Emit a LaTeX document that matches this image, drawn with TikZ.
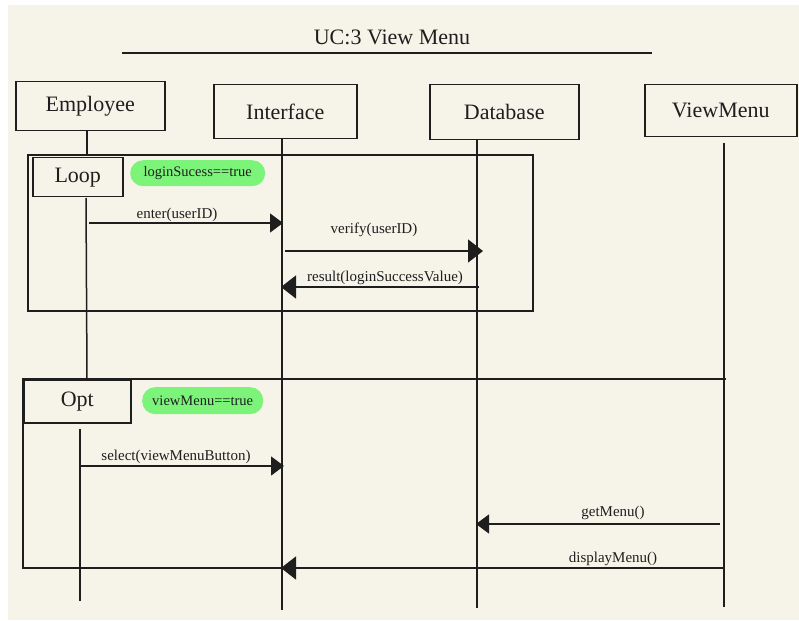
\documentclass[tikz,border=0pt]{standalone}
\usepackage{fontspec}
\setmainfont{Liberation Serif}
\usetikzlibrary{arrows.meta}
\definecolor{paper}{HTML}{F6F4E9}
\definecolor{ink}{HTML}{1E1E1E}
\definecolor{pill}{HTML}{7CF47A}
\begin{document}
\begin{tikzpicture}[x=1pt,y=-1pt,
  line/.style={draw=ink, line width=1.5pt},
  actor/.style={line, anchor=north west, inner sep=0pt, text=ink,
    font=\fontsize{22}{24}\selectfont},
  framelabel/.style={line, anchor=north west, inner sep=0pt, text=ink,
    font=\fontsize{22}{24}\selectfont},
  guard/.style={fill=pill, rounded corners=13pt, inner sep=0pt, anchor=north west,
    text=ink, font=\fontsize{14.5}{16}\selectfont},
  msglabel/.style={text=ink, inner sep=0pt, font=\fontsize{15}{17}\selectfont},
  msg/.style={line, -{Triangle[length=15pt,width=23pt]}},
  msgsmall/.style={line, -{Triangle[length=13pt,width=19pt]}}]

% page and paper
\useasboundingbox (0,0) rectangle (799,620);
\fill[white] (0,0) rectangle (799,620);
\fill[paper] (8,5) rectangle (799,620);

% title
\node[text=ink, font=\fontsize{22}{24}\selectfont] (title) at (392,37) {UC:3 View Menu};
\coordinate (ulL) at (122,53);
\coordinate (ulR) at (652,53);
\draw[line] (ulL) -- (ulR);

% participants
\node[actor, minimum width=149pt, minimum height=49pt] (emp) at (15,81) {Employee};
\node[actor, minimum width=143pt, minimum height=54pt] (ifc) at (213,84) {Interface};
\node[actor, minimum width=149pt, minimum height=55pt] (db) at (429,84) {Database};
\node[actor, minimum width=152pt, minimum height=52pt] (vm) at (644,84) {ViewMenu};

% loop fragment
\coordinate (loopNW) at (28,155);
\coordinate (loopSE) at (533,311);
\draw[line] (loopNW) rectangle (loopSE);
\node[framelabel, minimum width=90pt, minimum height=39pt] (looplbl) at (32,157) {Loop};
\node[guard, minimum width=135pt, minimum height=26pt] (g1) at (130,160) {loginSucess==true};

% opt fragment (closed on the right by the ViewMenu lifeline)
\coordinate (optNE) at (726,379);
\coordinate (optNW) at (23,379);
\coordinate (optSW) at (23,568);
\coordinate (optSE) at (282,568);
\draw[line] (optNE) -- (optNW) -- (optSW) -- (optSE);
\node[framelabel, minimum width=107pt, minimum height=43pt] (optlbl) at (23,379) {Opt};
\node[guard, minimum width=121pt, minimum height=27pt] (g2) at (142,387) {viewMenu==true};

% lifelines
\coordinate (empTop) at (87,130);
\coordinate (empA) at (87,155);
\coordinate (empB) at (86,198);
\coordinate (empC) at (87,379);
\coordinate (empD) at (80,429);
\coordinate (empE) at (80,601);
\draw[line] (empTop) -- (empA);
\draw[line] (empB) -- (empC);
\draw[line] (empD) -- (empE);

\coordinate (ifcTop) at (282,138);
\coordinate (ifcEnd) at (282,610);
\draw[line] (ifcTop) -- (ifcEnd);

\coordinate (dbTop) at (477,139);
\coordinate (dbEnd) at (477,608);
\draw[line] (dbTop) -- (dbEnd);

\coordinate (vmTop) at (724,143);
\coordinate (vmEnd) at (724,607);
\draw[line] (vmTop) -- (vmEnd);

% messages
\coordinate (m1s) at (89,223);  \coordinate (m1e) at (283,223);
\draw[msgsmall] (m1s) -- (m1e);
\node[msglabel] (l1) at (177,215) {enter(userID)};

\coordinate (m2s) at (285,251); \coordinate (m2e) at (483,251);
\draw[msg] (m2s) -- (m2e);
\node[msglabel] (l2) at (374,230) {verify(userID)};

\coordinate (m3s) at (479,287); \coordinate (m3e) at (281,287);
\draw[msg] (m3s) -- (m3e);
\node[msglabel] (l3) at (385,278) {result(loginSuccessValue)};

\coordinate (m4s) at (80,466);  \coordinate (m4e) at (284,466);
\draw[msgsmall] (m4s) -- (m4e);
\node[msglabel] (l4) at (176,457) {select(viewMenuButton)};

\coordinate (m5s) at (720,524); \coordinate (m5e) at (476,524);
\draw[msgsmall] (m5s) -- (m5e);
\node[msglabel] (l5) at (613,513) {getMenu()};

\coordinate (m6s) at (724,568); \coordinate (m6e) at (281,568);
\draw[msg] (m6s) -- (m6e);
\node[msglabel] (l6) at (613,559) {displayMenu()};
\end{tikzpicture}
\end{document}
